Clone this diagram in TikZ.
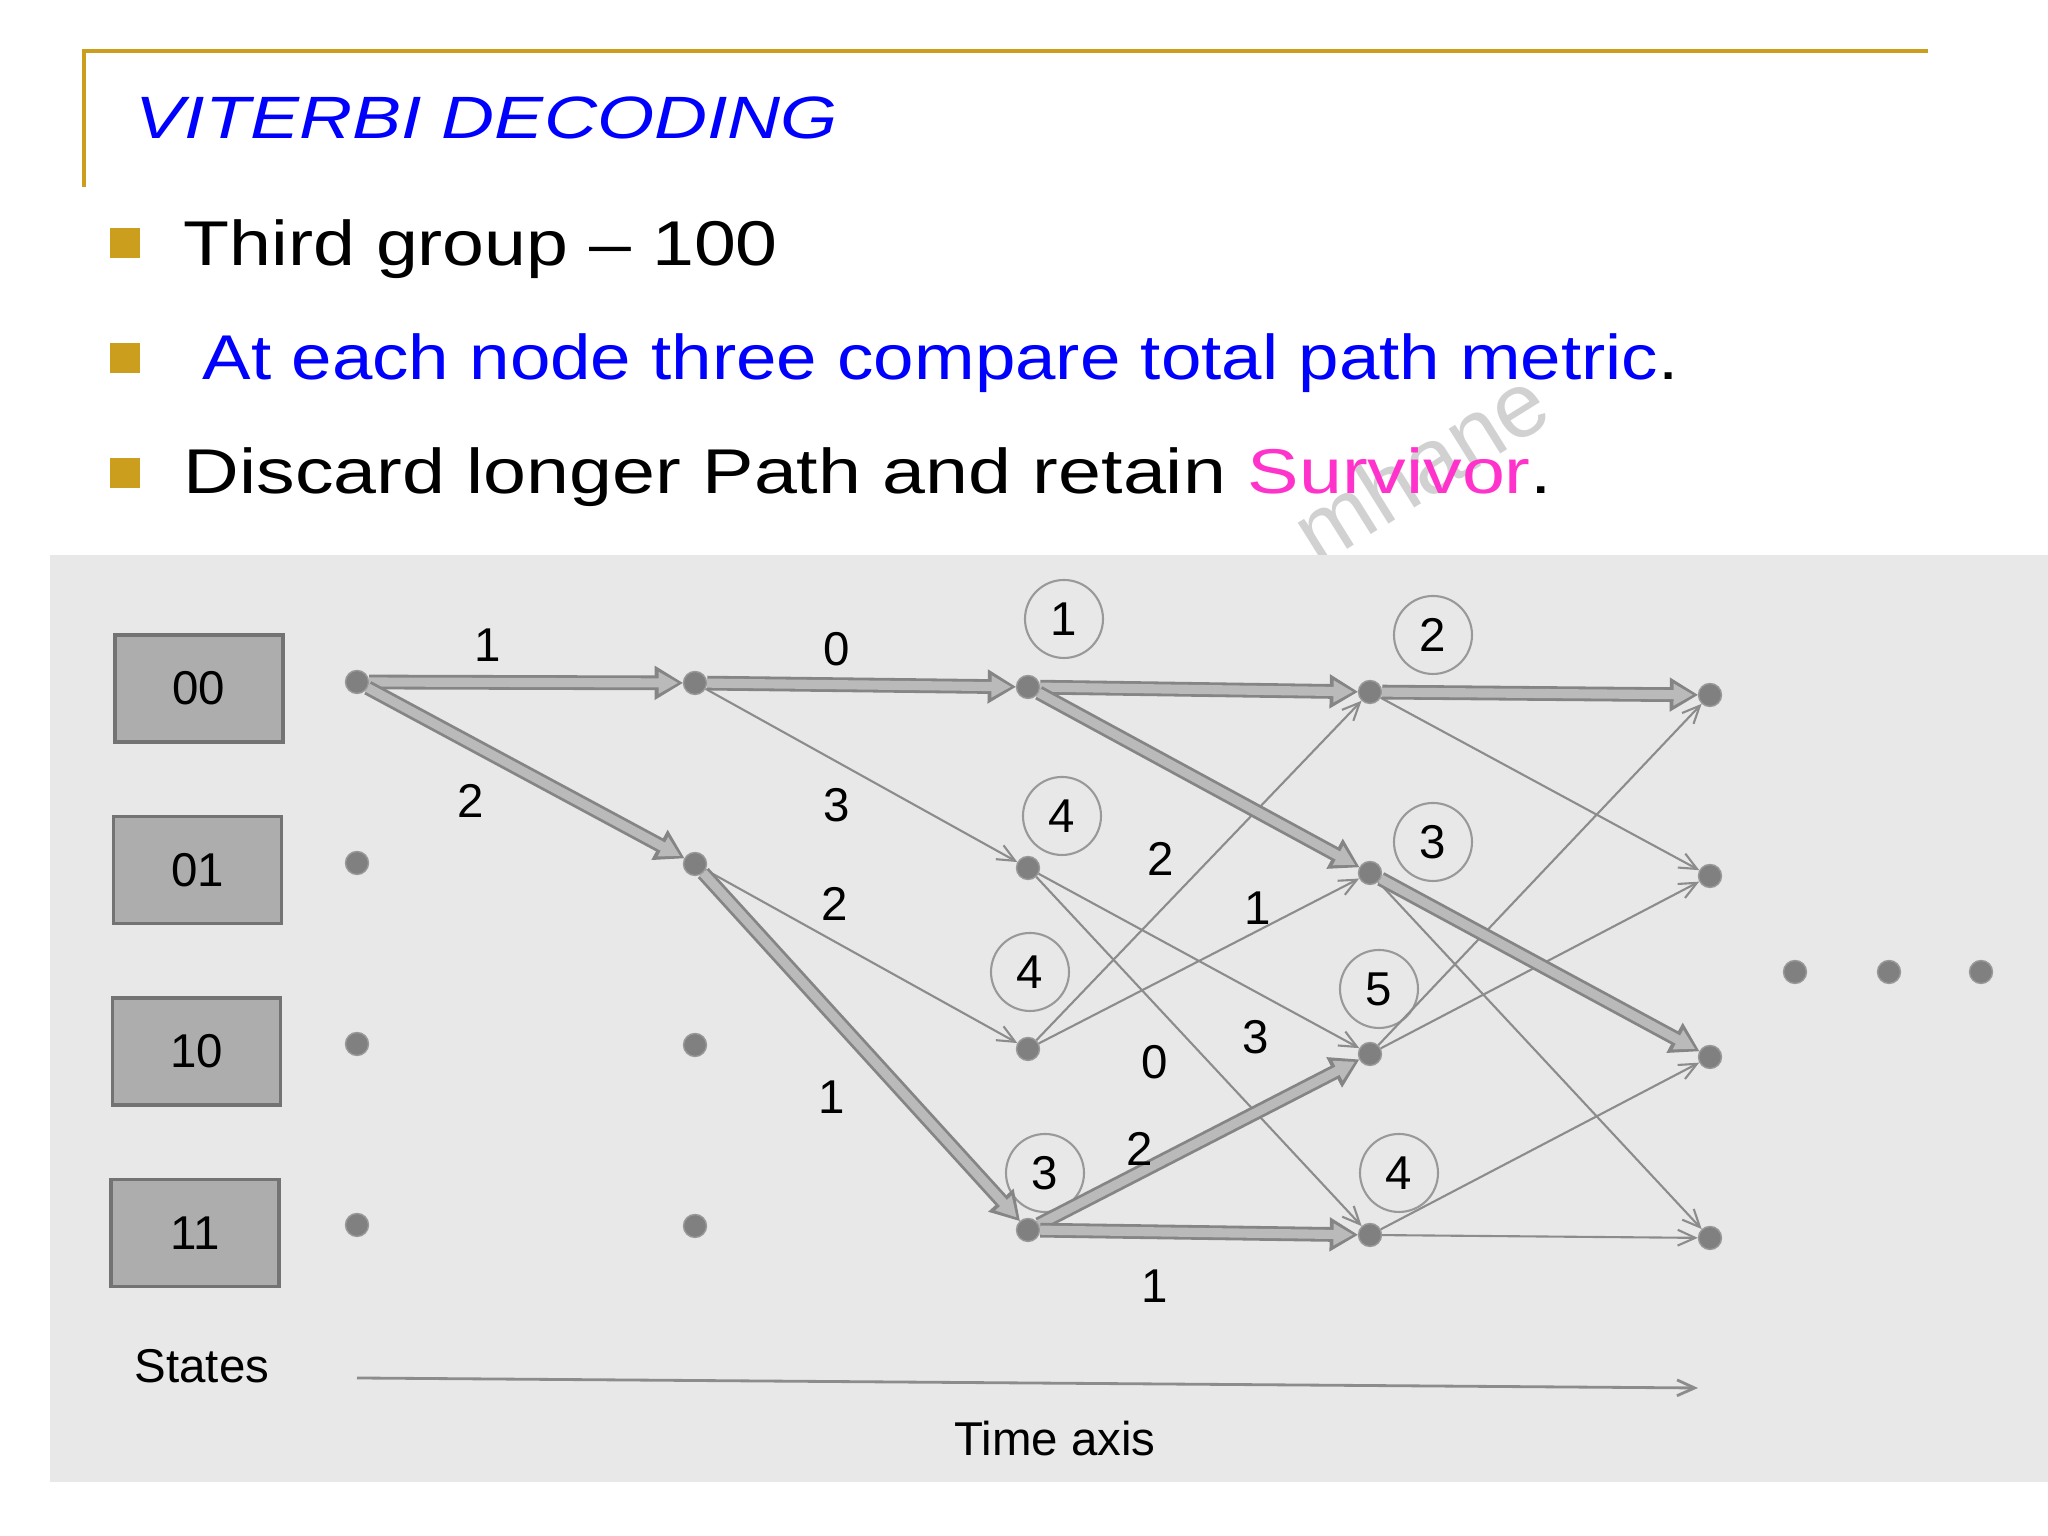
\documentclass[tikz,border=0pt]{standalone}
\usepackage{fontspec}
\setmainfont{Liberation Sans}
\newfontfamily\handfont{Liberation Sans}[FakeStretch=1.19]
\newfontfamily\handfontb{Liberation Sans}[FakeStretch=1.15]
\newfontfamily\handfontc{Liberation Sans}[FakeStretch=1.22]
\newfontfamily\titlefont{Liberation Sans}[FakeStretch=1.23]
\usepackage{tikz}
\usetikzlibrary{arrows.meta, positioning}
\definecolor{slidegold}{RGB}{204,158,30}
\definecolor{slideblue}{RGB}{0,0,255}
\definecolor{slidepink}{RGB}{255,51,204}
\tikzstyle{dot} = [circle, fill=black!50, draw=black!40, inner sep=0pt, minimum size=0.23cm]
\tikzstyle{statebox} = [rectangle, fill=black!32, draw=black!55, line width=1pt, minimum width=1.68cm, minimum height=1.07cm, font=\fontsize{13.5pt}{15pt}\selectfont]
\tikzstyle{metric} = [circle, draw=black!40, line width=0.6pt, minimum size=0.78cm, inner sep=0pt, font=\fontsize{13.5pt}{15pt}\selectfont]
\tikzstyle{lbl} = [inner sep=0pt, font=\fontsize{13.5pt}{15pt}\selectfont]
\tikzstyle{branch} = [draw=black!45, line width=0.6pt, -{Straight Barb[length=5pt,width=4.5pt]}]
\tikzstyle{survivor} = [draw=black!48, line width=4.2pt, -{Triangle[length=8pt,width=9.7pt,line width=0.4pt]},
    postaction={draw=black!27, line width=2.6pt, -{Triangle[length=5.5pt,width=6.2pt,line width=0.4pt]}, shorten >=1.4pt}]
\tikzstyle{bodytext} = [anchor=base west, inner sep=0pt, font=\fontsize{18pt}{20pt}\selectfont]

\begin{document}
\begin{tikzpicture}
\useasboundingbox (0,0) rectangle (20.48,15.36);
\fill[white] (0,0) rectangle (20.48,15.36);

% Slide frame
\draw[slidegold, line width=1.3pt] (0.84,13.49) -- (0.84,14.85) -- (19.28,14.85);
\node[anchor=base west, inner sep=0pt, text=slideblue,
      font=\titlefont\itshape\fontsize{17pt}{19pt}\selectfont] (title) at (1.35,13.97) {VITERBI DECODING};

% Watermark
\node[rotate=32, text=black!18, font=\fontsize{26pt}{28pt}\selectfont] (wm) at (14.2,10.7) {mhane};

% Bullets
\foreach \y in {12.93,11.78,10.63}
    \fill[slidegold] (1.10,\y-0.15) rectangle ++(0.30,0.30);
\node[bodytext] (line1) at (1.83,12.70) {\handfont Third group – 100};
\node[bodytext] (line2) at (2.02,11.56) {\handfontb\textcolor{slideblue}{At each node three compare total path metric}.};
\node[bodytext] (line3) at (1.83,10.42) {\handfontc Discard longer Path and retain \textcolor{slidepink}{Survivor}.};

% Scanned figure area
\fill[black!9] (0.50,0.54) rectangle (20.48,9.81);

% State boxes
\foreach \r/\s in {0/00,1/01,2/10,3/11}
    \node[statebox] (s\s) at ({1.99-0.013*\r},{8.475-1.815*\r}) {\s};
\node[lbl] (states) at (2.02,1.70) {States};

% Trellis nodes
\foreach \c/\x/\d in {0/3.57/0, 1/6.95/0.01, 2/10.28/0.05, 3/13.70/0.10, 4/17.10/0.13}
    \foreach \r in {0,...,3}
        \node[dot] (n\c\r) at (\x,{8.54-1.81*\r-\d}) {};

% Path metrics
\foreach \m/\x/\y/\t in {a/10.64/9.17/1, b/10.62/7.20/4, c/10.30/5.64/4, d/10.45/3.63/3,
                         e/14.33/9.01/2, f/14.33/6.94/3, g/13.79/5.47/5, h/13.99/3.63/4}
    \node[metric] (p\m) at (\x,\y) {\t};

% Discarded branches
\foreach \a/\b in {10/21, 11/22, 21/32, 21/33, 22/30, 22/31,
                   30/41, 31/43, 32/40, 32/41, 33/42, 33/43}
    \draw[branch] (n\a) -- (n\b);

% Survivor branches
\foreach \a/\b in {00/10, 00/11, 10/20, 11/23, 20/30, 20/31,
                   23/32, 23/33, 30/40, 31/42}
    \draw[survivor] (n\a) -- (n\b);

% Branch metrics
\foreach \m/\x/\y/\t in {a/4.88/8.91/1, b/4.71/7.35/2, c/8.37/8.87/0, d/8.37/7.31/3,
                         e/8.35/6.32/2, f/8.32/4.39/1, g/11.61/6.77/2, h/12.58/6.28/1,
                         i/11.55/4.74/0, j/12.56/4.99/3, k/11.40/3.87/2, l/11.55/2.50/1}
    \node[lbl] (b\m) at (\x,\y) {\t};

% More states follow
\foreach \k/\x in {1/17.95, 2/18.89, 3/19.81}
    \node[dot] (more\k) at (\x,5.64) {};

% Time axis
\coordinate (tstart) at (3.57,1.58);
\coordinate (tend) at (16.98,1.48);
\draw[branch, line width=0.8pt] (tstart) -- (tend);
\node[lbl] (time) at (10.55,0.97) {Time axis};

\end{tikzpicture}
\end{document}
